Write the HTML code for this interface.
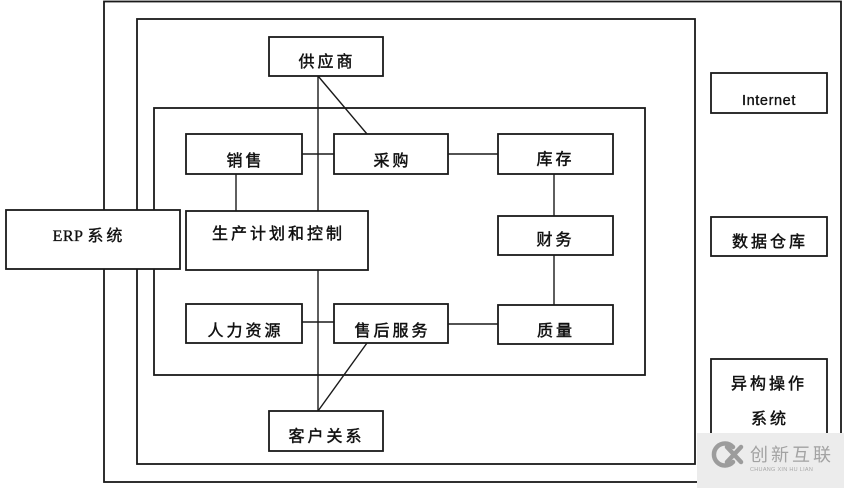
<!DOCTYPE html>
<html>
<head>
<meta charset="utf-8">
<style>
  html,body{margin:0;padding:0;background:#fff;}
  body{width:844px;height:488px;overflow:hidden;}
  svg{display:block;}
  .t{font-family:"Liberation Sans","Noto Sans CJK SC",sans-serif;font-size:16px;fill:#111;letter-spacing:3px;stroke:#111;stroke-width:0.45px;}
</style>
</head>
<body>
<svg width="844" height="488" viewBox="0 0 844 488" xmlns="http://www.w3.org/2000/svg">
  <rect x="0" y="0" width="844" height="488" fill="#fff"/>
  <!-- nested frames -->
  <g fill="none" stroke="#1a1a1a" stroke-width="1.8">
    <rect x="104" y="1.5" width="737" height="480.5"/>
    <rect x="137" y="19" width="558" height="445"/>
    <rect x="154" y="108" width="491" height="267"/>
  </g>
  <!-- connectors -->
  <g fill="none" stroke="#1a1a1a" stroke-width="1.4">
    <line x1="318" y1="76" x2="318" y2="211"/>
    <line x1="318" y1="270" x2="318" y2="411"/>
    <line x1="318" y1="76" x2="367" y2="134"/>
    <line x1="367" y1="343" x2="318" y2="411"/>
    <line x1="302" y1="154" x2="334" y2="154"/>
    <line x1="448" y1="154" x2="498" y2="154"/>
    <line x1="236" y1="174" x2="236" y2="211"/>
    <line x1="554" y1="174" x2="554" y2="216"/>
    <line x1="554" y1="255" x2="554" y2="305"/>
    <line x1="302" y1="322" x2="334" y2="322"/>
    <line x1="448" y1="324" x2="498" y2="324"/>
  </g>
  <!-- boxes -->
  <g fill="#fff" stroke="#1a1a1a" stroke-width="1.8">
    <rect x="6" y="210" width="174" height="59"/>
    <rect x="269" y="37" width="114" height="39"/>
    <rect x="186" y="134" width="116" height="40"/>
    <rect x="334" y="134" width="114" height="40"/>
    <rect x="498" y="134" width="115" height="40"/>
    <rect x="498" y="216" width="115" height="39"/>
    <rect x="498" y="305" width="115" height="39"/>
    <rect x="186" y="211" width="182" height="59"/>
    <rect x="186" y="304" width="116" height="39"/>
    <rect x="334" y="304" width="114" height="39"/>
    <rect x="269" y="411" width="114" height="40"/>
    <rect x="711" y="73" width="116" height="40"/>
    <rect x="711" y="217" width="116" height="39"/>
    <rect x="711" y="359" width="116" height="100"/>
  </g>
  <!-- labels -->
  <g text-anchor="middle" class="t">
    <text x="327" y="67">供应商</text>
    <text x="245.5" y="166">销售</text>
    <text x="392.5" y="166">采购</text>
    <text x="555.5" y="164.5">库存</text>
    <text x="555.5" y="245">财务</text>
    <text x="556" y="336">质量</text>
    <text x="278.5" y="239">生产计划和控制</text>
    <text x="245.5" y="336">人力资源</text>
    <text x="392.5" y="336">售后服务</text>
    <text x="326.5" y="441.5">客户关系</text>
    <text x="770" y="247">数据仓库</text>
    <text x="769" y="389">异构操作</text>
    <text x="770" y="424">系统</text>
  </g>
  <text x="89" y="241" text-anchor="middle" font-family="'Liberation Serif','Noto Sans CJK SC',serif" font-size="16" fill="#111" stroke="#111" stroke-width="0.35" letter-spacing="0.5">ERP <tspan font-family="'Liberation Sans','Noto Sans CJK SC',sans-serif" letter-spacing="3">系统</tspan></text>
  <text x="769" y="105" text-anchor="middle" font-family="'Liberation Sans',sans-serif" font-size="14.5" fill="#111" stroke="#111" stroke-width="0.35" letter-spacing="0.6">Internet</text>
  <!-- watermark -->
  <rect x="697" y="433" width="147" height="55" fill="#ececec"/>
  <g fill="none" stroke="#9c9c9c" stroke-width="4.5" stroke-linecap="round">
    <path d="M 733 447 A 11 11 0 1 0 733 462"/>
    <line x1="727" y1="447" x2="741" y2="462"/>
    <line x1="741" y1="447" x2="727" y2="462"/>
  </g>
  <text x="750" y="461" font-family="'Liberation Sans','Noto Sans CJK SC',sans-serif" font-size="18" fill="#a2a2a2" letter-spacing="3">创新互联</text>
  <text x="750" y="471" font-family="'Liberation Sans',sans-serif" font-size="5.5" fill="#a8a8a8" letter-spacing="0.3">CHUANG XIN HU LIAN</text>
</svg>
</body>
</html>
